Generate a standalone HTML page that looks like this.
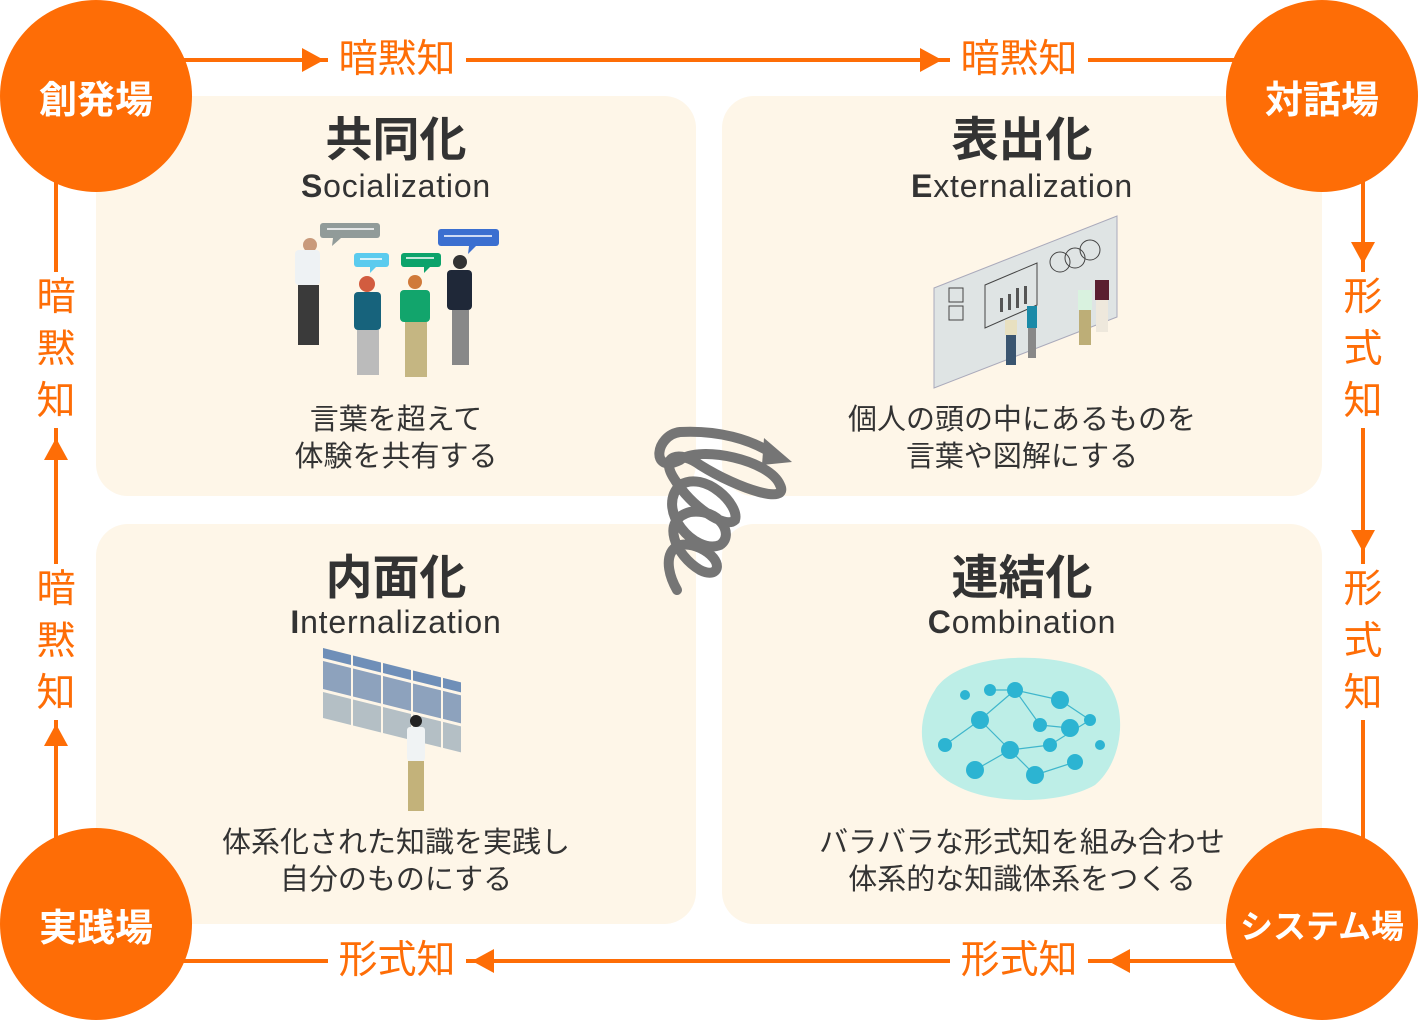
<!DOCTYPE html>
<html><head><meta charset="utf-8">
<style>
html,body{margin:0;padding:0;background:#fff;}
body{width:1418px;height:1020px;position:relative;overflow:hidden;font-family:"Liberation Sans","Noto Sans CJK JP",sans-serif;}
.p{position:absolute;background:#fef6e8;border-radius:32px;}
.t{position:absolute;width:600px;text-align:center;color:#333;}
.h{font-size:47px;font-weight:bold;line-height:50px;}
.e{font-size:32px;line-height:36px;letter-spacing:0.8px}
.e b{font-weight:bold}
.d{font-size:29px;line-height:37px;}
.c{position:absolute;width:192px;height:192px;border-radius:50%;background:#fe6d06;color:#fff;font-weight:bold;display:flex;align-items:center;justify-content:center;font-size:38px;}
.lb{position:absolute;color:#fe6d06;font-size:39px;line-height:52px;background:#fff;text-align:center;}
svg{position:absolute;left:0;top:0}
</style></head><body>
<div class="p" style="left:96px;top:96px;width:600px;height:400px"></div>
<div class="p" style="left:722px;top:96px;width:600px;height:400px"></div>
<div class="p" style="left:96px;top:524px;width:600px;height:400px"></div>
<div class="p" style="left:722px;top:524px;width:600px;height:400px"></div>

<svg width="1418" height="1020">
<g stroke="#fe6d06" stroke-width="4" fill="none">
<line x1="150" y1="60" x2="1270" y2="60"/>
<line x1="56" y1="150" x2="56" y2="870"/>
<line x1="1363" y1="150" x2="1363" y2="870"/>
<line x1="150" y1="961" x2="1270" y2="961"/>
</g>
<g fill="#fe6d06">
<polygon points="302,48 324,60 302,72"/>
<polygon points="920,48 942,60 920,72"/>
<polygon points="44,460 56,438 68,460"/>
<polygon points="44,746 56,724 68,746"/>
<polygon points="1351,242 1363,264 1375,242"/>
<polygon points="1351,530 1363,552 1375,530"/>
<polygon points="494,949 472,961 494,973"/>
<polygon points="1130,949 1108,961 1130,973"/>
</g>
<!-- spiral -->
<g stroke="#757575" stroke-width="10" fill="none" stroke-linecap="round">
<path d="M677,590 C660,560 670,535 700,548 C725,560 720,580 700,570 C675,555 660,520 690,512 C720,508 735,535 720,545 C695,555 655,510 680,485 C705,470 740,505 735,520 C725,530 690,505 675,480 C658,455 680,450 700,465 C740,490 790,505 780,485 C770,460 700,445 680,460 C650,475 655,435 680,432 C720,430 750,440 770,452"/>
</g>
<polygon points="764,438 792,462 762,465" fill="#757575"/>

<!-- socialization people -->
<g>
<rect x="320" y="223" width="60" height="15" rx="3" fill="#919b99"/><polygon points="333,238 341,238 332,246" fill="#919b99"/>
<rect x="354" y="253" width="35" height="14" rx="3" fill="#5bcbee"/><polygon points="370,267 376,267 370,273" fill="#5bcbee"/>
<rect x="401" y="253" width="40" height="14" rx="3" fill="#0ca36b"/><polygon points="424,267 430,267 424,273" fill="#0ca36b"/>
<rect x="438" y="229" width="61" height="17" rx="3" fill="#3b6fd0"/><polygon points="469,246 476,246 468,254" fill="#3b6fd0"/>
<g stroke="#fff" stroke-width="1.5"><line x1="327" y1="229" x2="374" y2="229"/><line x1="444" y1="236" x2="492" y2="236"/><line x1="360" y1="259" x2="382" y2="259"/><line x1="406" y1="258" x2="434" y2="258"/></g>
<circle cx="310" cy="245" r="7" fill="#c99a7b"/><rect x="295" y="250" width="25" height="35" rx="4" fill="#eef2f4"/><rect x="298" y="285" width="21" height="60" fill="#3a3a3a"/>
<circle cx="367" cy="284" r="8" fill="#d25c3f"/><rect x="354" y="292" width="27" height="38" rx="4" fill="#17637c"/><rect x="357" y="330" width="22" height="45" fill="#bbb"/>
<circle cx="415" cy="282" r="7" fill="#d07a3a"/><rect x="400" y="290" width="30" height="32" rx="4" fill="#12a56c"/><rect x="405" y="322" width="22" height="55" fill="#c5b682"/>
<circle cx="460" cy="262" r="7" fill="#333"/><rect x="447" y="270" width="25" height="40" rx="4" fill="#1f2838"/><rect x="452" y="310" width="17" height="55" fill="#888"/>
</g>

<!-- externalization board -->
<polygon points="934,288 1117,216 1117,317 934,388" fill="#dfe4e4" stroke="#aab" stroke-width="1"/>
<g stroke="#444" stroke-width="1" fill="none">
<rect x="949" y="288" width="14" height="14"/><rect x="949" y="306" width="14" height="14"/>
<polygon points="985,285 1037,263 1037,305 985,328"/>
<circle cx="1060" cy="262" r="10"/><circle cx="1075" cy="258" r="10"/><circle cx="1090" cy="250" r="10"/>
</g>
<g fill="#555"><rect x="1000" y="298" width="3" height="14"/><rect x="1008" y="294" width="3" height="16"/><rect x="1016" y="288" width="3" height="20"/><rect x="1024" y="286" width="3" height="18"/></g>
<rect x="1005" y="320" width="12" height="15" fill="#e8e0c0"/><rect x="1006" y="335" width="10" height="30" fill="#3a5570"/>
<rect x="1027" y="306" width="10" height="22" fill="#1a8aa8"/><rect x="1028" y="328" width="8" height="30" fill="#888"/>
<rect x="1078" y="290" width="14" height="20" fill="#d9f2df"/><rect x="1079" y="310" width="12" height="35" fill="#bdae77"/>
<rect x="1095" y="280" width="14" height="20" fill="#5a1f30"/><rect x="1096" y="300" width="12" height="32" fill="#eee8dc"/>

<!-- internalization panels -->
<g transform="translate(323,648) skewY(14)">
<g fill="#6f8fb8"><rect x="0" y="0" width="28" height="10"/><rect x="30" y="0" width="28" height="10"/><rect x="60" y="0" width="28" height="10"/><rect x="90" y="0" width="28" height="10"/><rect x="120" y="0" width="18" height="10"/></g>
<g fill="#8da2bd"><rect x="0" y="13" width="28" height="28"/><rect x="30" y="13" width="28" height="28"/><rect x="60" y="13" width="28" height="28"/><rect x="90" y="13" width="28" height="28"/><rect x="120" y="13" width="18" height="28"/></g>
<g fill="#b4bfc5"><rect x="0" y="44" width="28" height="26"/><rect x="30" y="44" width="28" height="26"/><rect x="60" y="44" width="28" height="26"/><rect x="90" y="44" width="28" height="26"/><rect x="120" y="44" width="18" height="26"/></g>
</g>
<circle cx="416" cy="721" r="6" fill="#222"/><rect x="407" y="727" width="18" height="34" rx="3" fill="#f0f3f4"/><rect x="408" y="761" width="16" height="50" fill="#c3b27a"/>

<!-- brain network -->
<path d="M935,690 C960,650 1060,650 1100,675 C1130,700 1125,760 1095,785 C1060,805 990,805 955,785 C915,765 915,720 935,690Z" fill="#bdeee7"/>
<g stroke="#3fb6cc" stroke-width="1.2">
<line x1="945" y1="745" x2="980" y2="720"/><line x1="980" y1="720" x2="1015" y2="690"/><line x1="1015" y1="690" x2="1060" y2="700"/><line x1="1060" y1="700" x2="1090" y2="720"/><line x1="980" y1="720" x2="1010" y2="750"/><line x1="1010" y1="750" x2="1050" y2="745"/><line x1="1050" y1="745" x2="1090" y2="720"/><line x1="975" y1="770" x2="1010" y2="750"/><line x1="1010" y1="750" x2="1035" y2="775"/><line x1="1035" y1="775" x2="1075" y2="762"/><line x1="990" y1="690" x2="1015" y2="690"/><line x1="1040" y1="725" x2="1015" y2="690"/><line x1="1040" y1="725" x2="1070" y2="728"/></g>
<g fill="#2cb4d2">
<circle cx="945" cy="745" r="7"/><circle cx="980" cy="720" r="9"/><circle cx="1015" cy="690" r="8"/><circle cx="1060" cy="700" r="9"/><circle cx="1090" cy="720" r="6"/><circle cx="1010" cy="750" r="9"/><circle cx="1050" cy="745" r="7"/><circle cx="975" cy="770" r="9"/><circle cx="1035" cy="775" r="9"/><circle cx="1075" cy="762" r="8"/><circle cx="990" cy="690" r="6"/><circle cx="1040" cy="725" r="7"/><circle cx="1070" cy="728" r="9"/><circle cx="965" cy="695" r="5"/><circle cx="1100" cy="745" r="5"/>
</g>
</svg>

<div class="t h" style="left:96px;top:115px">共同化</div>
<div class="t e" style="left:96px;top:168px"><b>S</b>ocialization</div>
<div class="t d" style="left:96px;top:402px">言葉を超えて<br>体験を共有する</div>

<div class="t h" style="left:722px;top:115px">表出化</div>
<div class="t e" style="left:722px;top:168px"><b>E</b>xternalization</div>
<div class="t d" style="left:722px;top:402px">個人の頭の中にあるものを<br>言葉や図解にする</div>

<div class="t h" style="left:96px;top:553px">内面化</div>
<div class="t e" style="left:96px;top:604px"><b>I</b>nternalization</div>
<div class="t d" style="left:96px;top:825px">体系化された知識を実践し<br>自分のものにする</div>

<div class="t h" style="left:722px;top:553px">連結化</div>
<div class="t e" style="left:722px;top:604px"><b>C</b>ombination</div>
<div class="t d" style="left:722px;top:825px">バラバラな形式知を組み合わせ<br>体系的な知識体系をつくる</div>

<div class="lb" style="left:328px;top:34px;width:138px">暗黙知</div>
<div class="lb" style="left:950px;top:34px;width:138px">暗黙知</div>
<div class="lb" style="left:328px;top:935px;width:138px">形式知</div>
<div class="lb" style="left:950px;top:935px;width:138px">形式知</div>
<div class="lb" style="left:34px;top:272px;width:44px">暗<br>黙<br>知</div>
<div class="lb" style="left:34px;top:564px;width:44px">暗<br>黙<br>知</div>
<div class="lb" style="left:1341px;top:272px;width:44px">形<br>式<br>知</div>
<div class="lb" style="left:1341px;top:564px;width:44px">形<br>式<br>知</div>

<div class="c" style="left:0;top:0">創発場</div>
<div class="c" style="left:1226px;top:0">対話場</div>
<div class="c" style="left:0;top:828px">実践場</div>
<div class="c" style="left:1226px;top:828px;font-size:33px">システム場</div>
</body></html>
